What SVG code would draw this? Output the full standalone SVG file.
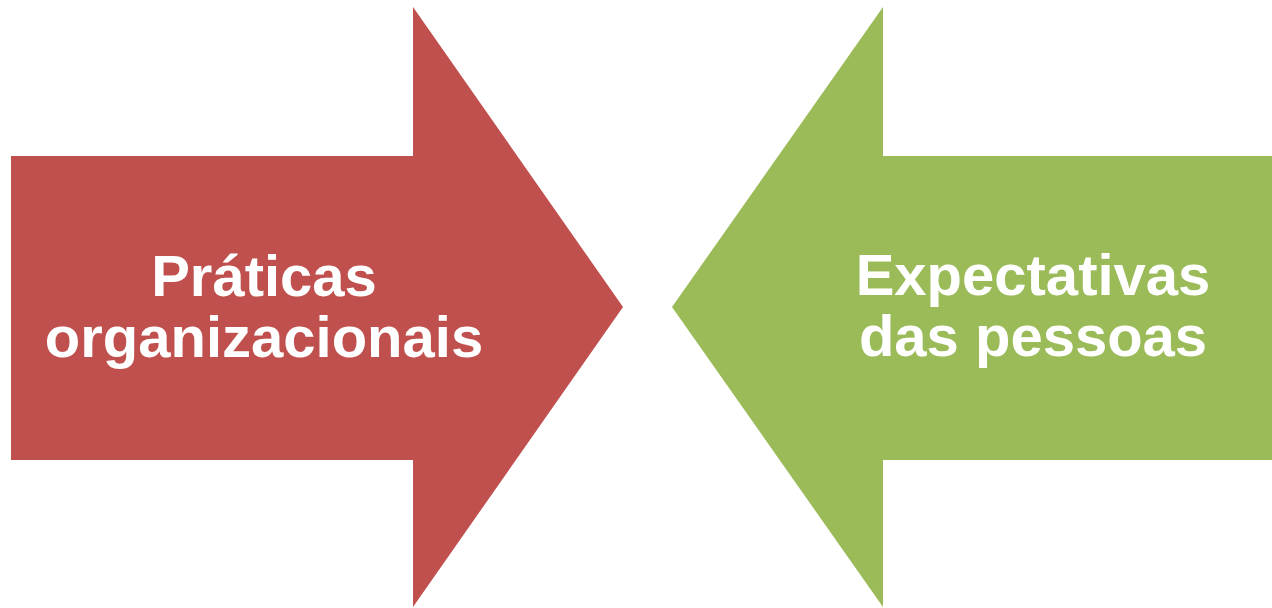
<svg xmlns="http://www.w3.org/2000/svg" width="1272" height="608" viewBox="0 0 1272 608">
  <style>
    .label { font-family: "Liberation Sans", Arial, sans-serif; font-weight: bold; font-size: 58px; fill: #FFFFFF; text-anchor: middle; }
    .red { fill: #C0504D; }
    .green { fill: #9BBB59; }
  </style>
  <rect width="1272" height="608" fill="#FFFFFF"/>
  <g id="node-praticas">
    <polygon class="red" points="11,156 413,156 413,7 623,307 413,607 413,460 11,460"/>
    <text class="label" x="264" y="296">Práticas</text>
    <text class="label" x="264" y="357">organizacionais</text>
  </g>
  <g id="node-expectativas">
    <polygon class="green" points="1272,156 883,156 883,7 672,307 883,607 883,460 1272,460"/>
    <text class="label" x="1033" y="295">Expectativas</text>
    <text class="label" x="1033" y="356">das pessoas</text>
  </g>
  <g id="connectors"></g>
</svg>
